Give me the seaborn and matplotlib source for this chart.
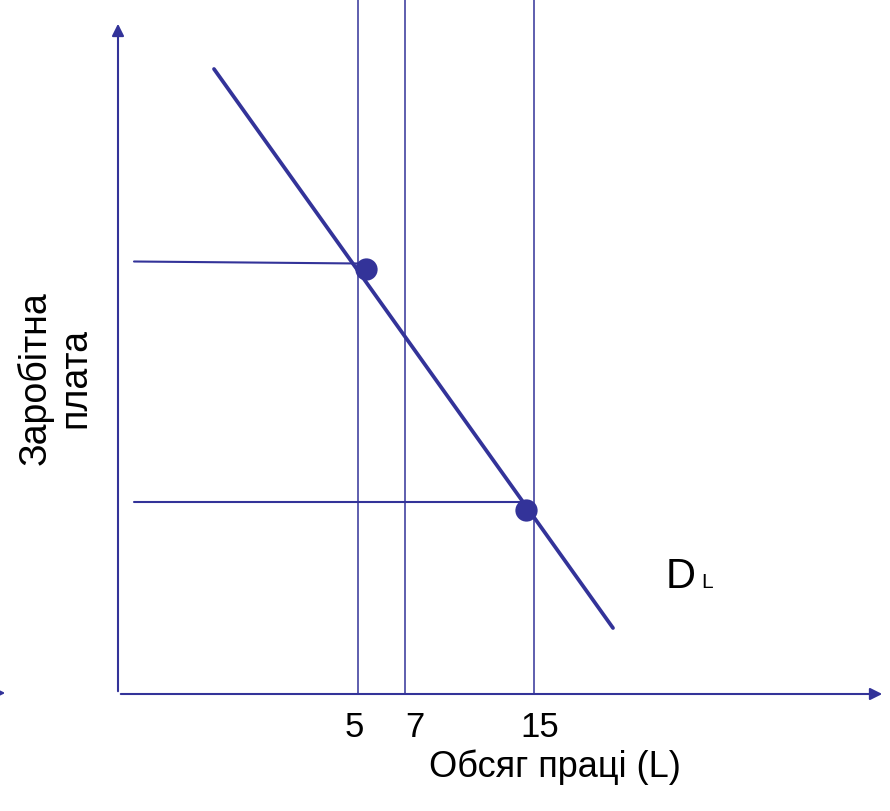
import matplotlib
matplotlib.use('Agg')
import matplotlib.pyplot as plt
import seaborn as sns
import pandas as pd

sns.set_style('white')
plt.rcParams['font.family'] = ['Liberation Sans', 'DejaVu Sans']

NAVY = '#333399'

# schematic data (units measured from the axes origin)
labour_pos = [240, 287, 416]
labour_labels = ['5', '7', '15']
label_shift = [-4, 10, 6]
demand_x = [96, 495]
demand_y = [625, 66]
point_x = [248, 408]
point_y = [425, 184]
wage_start_x = [16, 16]
wage_end_x = [242, 407]
wage_y_start = [432.5, 192.5]
wage_y_end = [430.5, 192.5]

fig = plt.figure(figsize=(8.9, 8.12), dpi=100)
ax = fig.add_axes([0, 0, 1, 1])
ax.set_xlim(-118, 772)
ax.set_ylim(-117, 695)
ax.set_axis_off()

# axes with arrows
ax.annotate('', xy=(767, 0), xytext=(0, 0),
            arrowprops=dict(arrowstyle='-|>', color=NAVY, lw=1.5, mutation_scale=18))
ax.annotate('', xy=(0, 673), xytext=(0, 0),
            arrowprops=dict(arrowstyle='-|>', color=NAVY, lw=1.5, mutation_scale=18))
# stray arrowhead at left edge
ax.annotate('', xy=(-110, 1), xytext=(-125, 1),
            arrowprops=dict(arrowstyle='-|>', color=NAVY, lw=1.5, mutation_scale=18),
            annotation_clip=False)

# vertical lines at labour levels
for xp, lab, dx in zip(labour_pos, labour_labels, label_shift):
    ax.plot([xp, xp], [0, 695], color=NAVY, lw=1.1)
    ax.text(xp + dx, -33, lab, ha='center', va='center', fontsize=25, color='black')

# horizontal wage lines
for x0, x1, y0, y1 in zip(wage_start_x, wage_end_x, wage_y_start, wage_y_end):
    ax.plot([x0, x1], [y0, y1], color=NAVY, lw=1.5)

# demand curve
df = pd.DataFrame({'L': demand_x, 'W': demand_y})
sns.lineplot(data=df, x='L', y='W', ax=ax, color=NAVY, lw=2.7, sort=False)
ax.set_axis_off()

# points
sns.scatterplot(x=point_x, y=point_y, ax=ax, color=NAVY, s=220, edgecolor=NAVY, zorder=5)

ax.text(548, 107, 'D', fontsize=30, ha='left', va='baseline', color='black')
ax.text(583, 107, 'L', fontsize=15, ha='left', va='baseline', color='black')

ax.text(437, -72, 'Обсяг праці (L)', fontsize=26, ha='center', va='center', color='black')
ax.text(-63, 317, 'Заробітна\nплата', fontsize=27, ha='center', va='center',
        rotation=90, color='black', linespacing=1.1)

fig.savefig('out.png', dpi=100)
